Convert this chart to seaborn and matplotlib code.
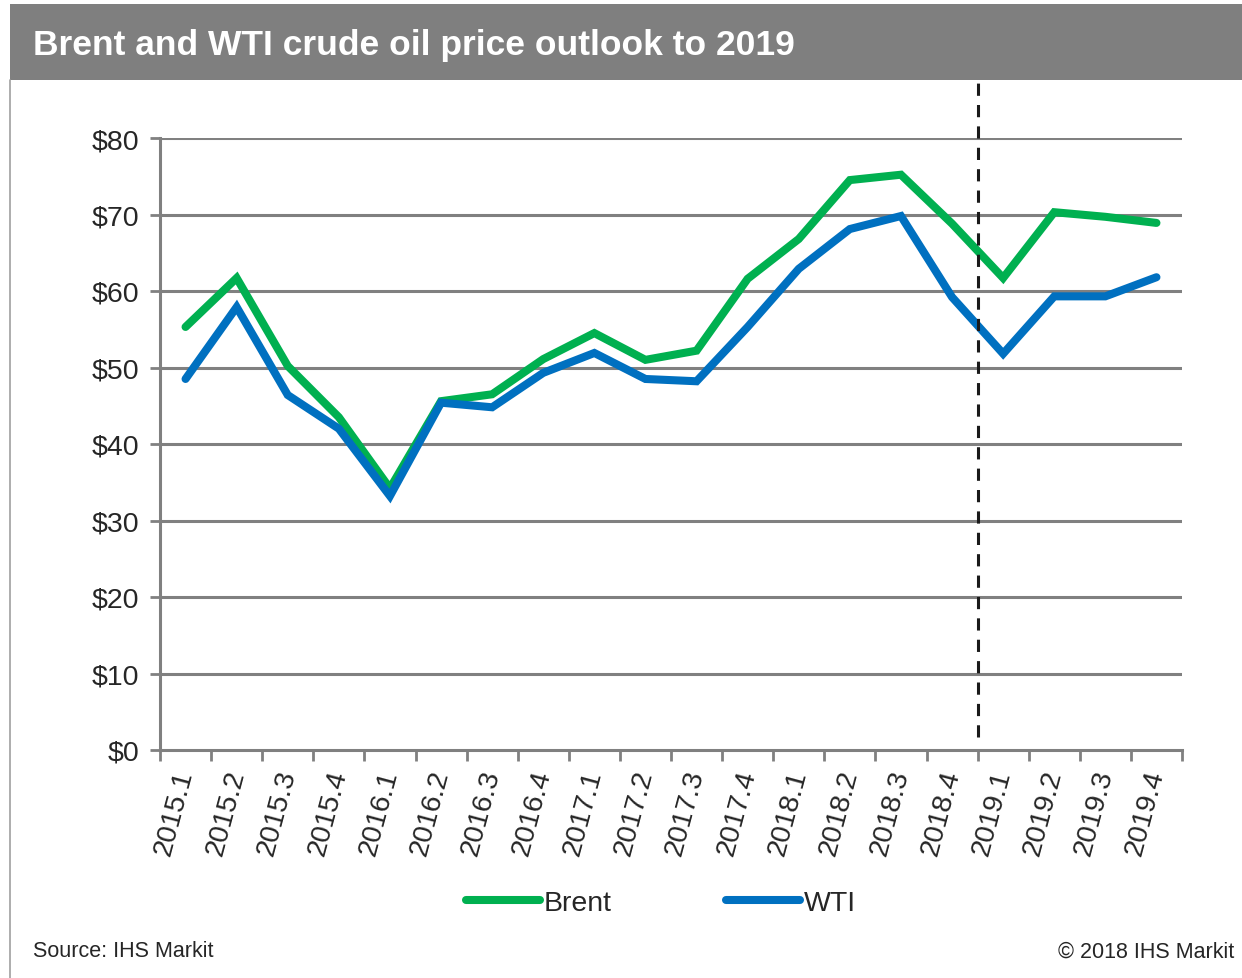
import pandas as pd
import numpy as np
import matplotlib
matplotlib.use("Agg")
import matplotlib.pyplot as plt
import matplotlib.transforms as mtransforms
import seaborn as sns
from matplotlib.patches import Rectangle
from matplotlib.lines import Line2D

# chart data
quarters = ["2015.1", "2015.2", "2015.3", "2015.4", "2016.1", "2016.2", "2016.3", "2016.4",
            "2017.1", "2017.2", "2017.3", "2017.4", "2018.1", "2018.2", "2018.3", "2018.4",
            "2019.1", "2019.2", "2019.3", "2019.4"]
brent = [55.3, 61.7, 50.2, 43.5, 34.2, 45.6, 46.5, 51.1, 54.5, 51.0, 52.2, 61.6,
         66.8, 74.5, 75.2, 68.8, 61.7, 70.3, 69.7, 68.9]
wti = [48.5, 57.9, 46.4, 42.0, 33.2, 45.4, 44.8, 49.3, 51.9, 48.5, 48.2, 55.3,
       62.9, 68.1, 69.8, 59.2, 51.8, 59.3, 59.3, 61.8]
series_names = ["Brent", "WTI"]
y_ticks = [0, 10, 20, 30, 40, 50, 60, 70, 80]
forecast_start = 15.5  # between 2018.4 and 2019.1

colors = {"Brent": "#00B050", "WTI": "#0070C0"}
grid_gray = "#808080"

df = pd.DataFrame({
    "idx": list(range(len(quarters))) * 2,
    "price": brent + wti,
    "series": ["Brent"] * len(brent) + ["WTI"] * len(wti),
})

sns.set_style("white")
plt.rcParams["font.family"] = ["Liberation Sans", "DejaVu Sans"]

fig = plt.figure(figsize=(12.42, 9.79), dpi=100)

# title band
fig.patches.append(Rectangle((10 / 1242, 1 - 81 / 979), 1 - 10 / 1242, 76 / 979,
                             transform=fig.transFigure, facecolor="#7f7f7f",
                             edgecolor="none", zorder=0))
fig.lines.append(Line2D([10 / 1242, 10 / 1242], [0, 1 - 81 / 979], transform=fig.transFigure,
                        color="#a0a0a0", lw=1.2))
fig.text(33 / 1242, 1 - 45 / 979, "Brent and WTI crude oil price outlook to 2019",
         color="white", fontsize=25.5, fontweight="bold", va="center", ha="left")

ax = fig.add_axes([160 / 1242, 1 - 751 / 979, 1022 / 1242, 612 / 979])

sns.lineplot(data=df, x="idx", y="price", hue="series", hue_order=series_names,
             palette=colors, linewidth=5.8, ax=ax, legend=False,
             solid_capstyle="round", solid_joinstyle="miter")

ax.set_xlim(-0.5, len(quarters) - 0.5)
ax.set_ylim(0, 80)

# y axis
ax.set_yticks(y_ticks)
ax.set_yticklabels([f"${v}" for v in y_ticks], fontsize=20.5)
for v in y_ticks[1:]:
    ax.axhline(v, color=grid_gray, lw=2.2, zorder=0)

# x axis: ticks at category boundaries, labels centered
ax.set_xticks(np.arange(-0.5, len(quarters), 1.0))
ax.set_xticklabels([])
ax.set_xticks(np.arange(len(quarters)), minor=True)
ax.set_xticklabels(quarters, minor=True, rotation=75, fontsize=20.5,
                   ha="center", va="top", rotation_mode="default")
ax.tick_params(axis="x", which="minor", length=0, pad=12)
ax.tick_params(axis="x", which="major", length=8, width=2, color=grid_gray, direction="out")
ax.tick_params(axis="y", length=7, width=2, color=grid_gray, direction="out", pad=8)
ax.xaxis.set_ticks_position("bottom")
ax.yaxis.set_ticks_position("left")

# nudge the rotated labels left, like the reference
shift = mtransforms.ScaledTranslation(-11 / 100, 0, fig.dpi_scale_trans)
for lbl in ax.xaxis.get_minorticklabels():
    lbl.set_transform(lbl.get_transform() + shift)

for side in ["top", "right"]:
    ax.spines[side].set_visible(False)
for side in ["left", "bottom"]:
    ax.spines[side].set_color(grid_gray)
    ax.spines[side].set_linewidth(2.2)

ax.set_xlabel("")
ax.set_ylabel("")

# forecast divider
ax.plot([forecast_start, forecast_start], [0.022, 1.093], transform=ax.get_xaxis_transform(),
        color="#1a1a1a", lw=2.2, ls=(0, (4, 3)), clip_on=False, zorder=5)

# legend
handles = [Line2D([], [], color=colors[s], lw=5.8, solid_capstyle="round") for s in series_names]
fig.legend(handles, series_names, loc="center", bbox_to_anchor=(661 / 1242, 1 - 904 / 979),
           ncol=2, frameon=False, fontsize=20.5, handlelength=2.6, handletextpad=0.15,
           columnspacing=4.0)

# footer
fig.text(33 / 1242, 1 - 952 / 979, "Source: IHS Markit", fontsize=15.5, va="center", ha="left")
fig.text(1234 / 1242, 1 - 952 / 979, "\u00a9 2018 IHS Markit", fontsize=15.5, va="center", ha="right")

fig.savefig("out.png", dpi=100)
